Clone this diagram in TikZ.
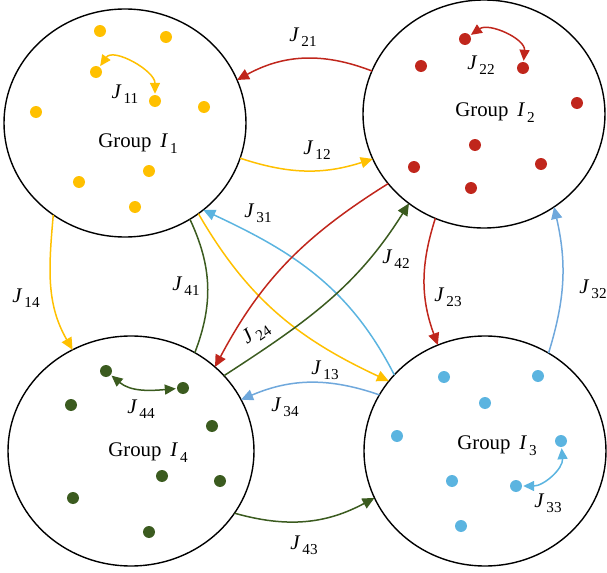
\documentclass[tikz,border=0pt]{standalone}
\usepackage{fontspec}
\setmainfont{Liberation Serif}
\usetikzlibrary{shapes.geometric,arrows.meta}
\definecolor{ycol}{HTML}{FFC000}
\definecolor{rcol}{HTML}{C0261C}
\definecolor{gcol}{HTML}{3B5B1F}
\definecolor{bcol}{HTML}{5BB4E0}
\definecolor{bbcol}{HTML}{6FA8DC}
\newcommand{\subnum}[1]{\raisebox{-0.55ex}{\fontsize{7.6}{8}\selectfont #1}}
\newcommand{\Jlab}[1]{\textit{J}\kern1pt\subnum{#1}}
\newcommand{\Glab}[1]{Group\hspace{0.42em}\textit{I}\kern1pt\subnum{#1}}
\begin{document}
\begin{tikzpicture}[x=0.5pt,y=-0.5pt,
  font=\fontsize{10.4}{12}\selectfont,
  grp/.style={ellipse, draw=black, line width=0.7pt, inner sep=0pt, outer sep=0pt},
  dot/.style={circle, fill=#1, inner sep=0pt, outer sep=0pt, minimum size=6pt},
  link/.style={line width=0.75pt},
  conn/.style={link, -{Triangle[length=6pt,width=5.5pt]}},
  loop/.style={link, {Triangle[length=5.5pt,width=5pt]}-{Triangle[length=5.5pt,width=5pt]}, shorten <=0.6pt, shorten >=0.6pt},
  lab/.style={inner sep=0pt},
  glab/.style={inner sep=0pt, anchor=base west}]
\useasboundingbox (0,0) rectangle (607,573);

% groups
\node[grp, minimum width=121pt, minimum height=114pt] (I1) at (125,123) {};
\node[grp, minimum width=121pt, minimum height=114pt] (I2) at (484,114) {};
\node[grp, minimum width=123pt, minimum height=115pt] (I4) at (131,451) {};
\node[grp, minimum width=121pt, minimum height=115pt] (I3) at (485,451) {};

\node[glab] (g1) at (98,148) {\Glab{1}};
\node[glab] (g2) at (455,117) {\Glab{2}};
\node[glab] (g4) at (108,457) {\Glab{4}};
\node[glab] (g3) at (457,450) {\Glab{3}};

% dots group 1
\foreach \n/\p in {1/{(100,31)},2/{(166,37)},3/{(96,72)},4/{(155,101)},5/{(36,112)},6/{(204,107)},7/{(149,171)},8/{(79,182)},9/{(135,207)}}
  \node[dot=ycol] (y\n) at \p {};
% dots group 2
\foreach \n/\p in {1/{(465,39)},2/{(421,66)},3/{(523,68)},4/{(577,103)},5/{(475,145)},6/{(414,167)},7/{(541,164)},8/{(471,188)}}
  \node[dot=rcol] (r\n) at \p {};
% dots group 4
\foreach \n/\p in {1/{(106,371)},2/{(183,388)},3/{(71,405)},4/{(212,426)},5/{(162,476)},6/{(220,481)},7/{(73,498)},8/{(149,532)}}
  \node[dot=gcol] (gd\n) at \p {};
% dots group 3
\foreach \n/\p in {1/{(444,377)},2/{(538,376)},3/{(485,403)},4/{(397,436)},5/{(561,441)},6/{(452,481)},7/{(516,486)},8/{(461,526)}}
  \node[dot=bcol] (b\n) at \p {};

% self couplings
\draw[loop, ycol] (y3) to[out=55,in=90] (y4);
\draw[loop, rcol] (r1) to[out=35,in=85] (r3);
\draw[loop, gcol] (gd1) to[out=-40,in=185] (gd2);
\draw[loop, bcol] (b7) to[out=0,in=-85] (b5);

\node[lab] (l11) at (125,94) {\Jlab{11}};
\node[lab] (l22) at (481,65) {\Jlab{22}};
\node[lab] (l44) at (141,409) {\Jlab{44}};
\node[lab] (l33) at (548,503) {\Jlab{33}};

% couplings between groups
\draw[conn, rcol] (I2.159) to[bend right=25] (I1.21);
\draw[conn, ycol] (I1.-17) to[bend right=18] (I2.202);
\draw[conn, ycol] (I1.232) to[out=-95,in=120] (I4.120);
\draw[link, gcol] (I4.57) to[bend right=23] (I1.-56);
\draw[conn, bcol] (I3.140) to[out=117,in=-25] (I1.-48);
\draw[conn, ycol] (I1.-51) to[out=-60,in=155] (I3.144);
\draw[conn, rcol] (I2.216) to[out=212,in=62] (I4.45);
\draw[conn, gcol] (I4.39) to[out=33,in=-122] (I2.230);
\draw[conn, rcol] (I2.245) to[bend right=19] (I3.114);
\draw[conn, bbcol] (I3.57) to[bend right=15] (I2.-53);
\draw[conn, bbcol] (I3.152) to[bend right=21] (I4.25);
\draw[conn, gcol] (I4.-31) to[bend right=22] (I3.203);

\node[lab] (l21) at (303,37) {\Jlab{21}};
\node[lab] (l12) at (317,150) {\Jlab{12}};
\node[lab] (l14) at (26,298) {\Jlab{14}};
\node[lab] (l41) at (186,286) {\Jlab{41}};
\node[lab] (l31) at (258,213) {\Jlab{31}};
\node[lab] (l42) at (396,259) {\Jlab{42}};
\node[lab, rotate=35] (l24) at (256,333) {\Jlab{24}};
\node[lab] (l13) at (325,370) {\Jlab{13}};
\node[lab] (l23) at (448,297) {\Jlab{23}};
\node[lab] (l32) at (593,289) {\Jlab{32}};
\node[lab] (l34) at (285,407) {\Jlab{34}};
\node[lab] (l43) at (304,545) {\Jlab{43}};
\end{tikzpicture}
\end{document}
